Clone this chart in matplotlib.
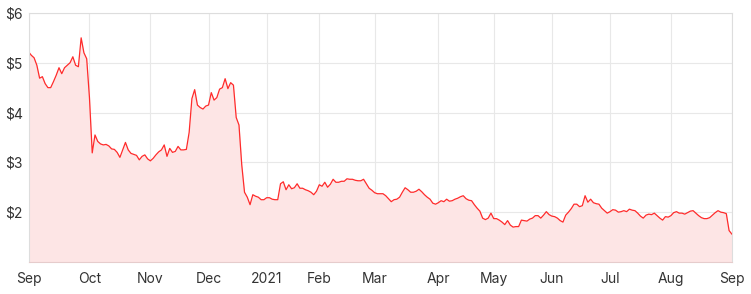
import numpy as np
import pandas as pd
import matplotlib
matplotlib.use("Agg")
import matplotlib.pyplot as plt

# ASX trading days, Sep 2020 - Sep 2021
holidays = ["2020-12-25", "2020-12-28", "2021-01-01", "2021-01-26",
            "2021-04-02", "2021-04-05", "2021-06-14"]
days = pd.bdate_range("2020-09-01", "2021-09-01")
days = days[~days.isin(pd.to_datetime(holidays))]

# closing prices, month by month
sep20 = [5.22, 5.15, 5.10, 4.95, 4.69, 4.72, 4.58, 4.50, 4.50, 4.62, 4.75,
         4.90, 4.78, 4.90, 4.95, 5.00, 5.12, 4.95, 4.92, 5.50, 5.20, 5.08]
oct20 = [4.30, 3.19, 3.55, 3.42, 3.37, 3.35, 3.36, 3.33, 3.27, 3.26, 3.20,
         3.10, 3.25, 3.40, 3.25, 3.18, 3.16, 3.14, 3.05, 3.12, 3.15, 3.07]
nov20 = [3.03, 3.08, 3.15, 3.21, 3.25, 3.35, 3.12, 3.28, 3.20, 3.22, 3.32,
         3.25, 3.25, 3.26, 3.60, 4.28, 4.46, 4.15, 4.10, 4.07, 4.13]
dec20 = [4.15, 4.40, 4.25, 4.30, 4.47, 4.50, 4.68, 4.48, 4.60, 4.55, 3.90,
         3.75, 2.95, 2.40, 2.30, 2.15, 2.35, 2.32, 2.30, 2.25, 2.25]
jan21 = [2.29, 2.29, 2.26, 2.25, 2.25, 2.57, 2.61, 2.45, 2.55, 2.47, 2.49,
         2.57, 2.48, 2.48, 2.45, 2.43, 2.40, 2.35, 2.42]
feb21 = [2.55, 2.52, 2.60, 2.50, 2.56, 2.66, 2.60, 2.60, 2.62, 2.62, 2.67,
         2.66, 2.66, 2.64, 2.63, 2.63, 2.66, 2.57, 2.48, 2.44]
mar21 = [2.39, 2.37, 2.37, 2.37, 2.33, 2.27, 2.21, 2.25, 2.26, 2.30, 2.40,
         2.49, 2.45, 2.40, 2.40, 2.42, 2.46, 2.41, 2.35, 2.30, 2.26, 2.18, 2.16]
apr21 = [2.19, 2.23, 2.21, 2.26, 2.22, 2.23, 2.26, 2.28, 2.31, 2.33, 2.27,
         2.24, 2.23, 2.15, 2.08, 2.02, 1.88, 1.85, 1.88, 1.98]
may21 = [1.87, 1.87, 1.84, 1.80, 1.75, 1.83, 1.74, 1.70, 1.71, 1.71, 1.84,
         1.83, 1.82, 1.86, 1.88, 1.93, 1.93, 1.88, 1.94, 2.01, 1.95]
jun21 = [1.92, 1.91, 1.88, 1.83, 1.80, 1.94, 2.00, 2.07, 2.16, 2.16, 2.11,
         2.13, 2.33, 2.20, 2.26, 2.19, 2.17, 2.16, 2.08, 2.03, 1.98]
jul21 = [2.01, 2.05, 2.04, 2.00, 2.01, 2.03, 2.01, 2.06, 2.04, 2.03, 1.98,
         1.92, 1.88, 1.94, 1.96, 1.95, 1.98, 1.93, 1.88, 1.84, 1.91, 1.90]
aug21 = [1.93, 1.99, 2.01, 1.98, 1.98, 1.96, 1.99, 2.02, 2.03, 1.98, 1.93,
         1.89, 1.87, 1.87, 1.89, 1.94, 1.99, 2.03, 2.00, 1.99, 1.97, 1.63]
sep21 = [1.56]

prices = np.array(sep20 + oct20 + nov20 + dec20 + jan21 + feb21 + mar21 +
                  apr21 + may21 + jun21 + jul21 + aug21 + sep21)
y_ticks = [2, 3, 4, 5, 6]

x = np.arange(len(prices))
months = pd.Series(days).dt.to_period("M")
first_idx = [int(np.argmax(months.values == m)) for m in months.unique()]
tick_labels = []
for i in first_idx:
    d = days[i]
    tick_labels.append(str(d.year) if d.month == 1 else d.strftime("%b"))

plt.rcParams["font.family"] = ["Inter", "DejaVu Sans"]

fig = plt.figure(figsize=(7.51, 2.94), dpi=100)
ax = fig.add_axes([0.038, 0.109, 0.9365, 0.847])

ax.fill_between(x, prices, 1, color="#fde5e5", lw=0)
ax.plot(x, prices, color="#ff2b2b", lw=0.9)

ax.set_xlim(0, len(prices) - 1)
ax.set_ylim(1, 6)
ax.set_xticks(first_idx)
ax.set_xticklabels(tick_labels)
ax.set_yticks(y_ticks)
ax.set_yticklabels(["$%d" % v for v in y_ticks])

ax.grid(True, color="#e8e8e8", lw=0.8)
ax.set_axisbelow(True)
for side in ["left", "right", "top"]:
    ax.spines[side].set_color("#dddddd")
    ax.spines[side].set_linewidth(0.8)
ax.spines["bottom"].set_color("#e6cccc")
ax.spines["bottom"].set_linewidth(0.8)
ax.tick_params(length=0, labelsize=10, colors="#333333")
ax.tick_params(axis="x", pad=7)
ax.tick_params(axis="y", pad=4)

fig.savefig("out.png", dpi=100)
